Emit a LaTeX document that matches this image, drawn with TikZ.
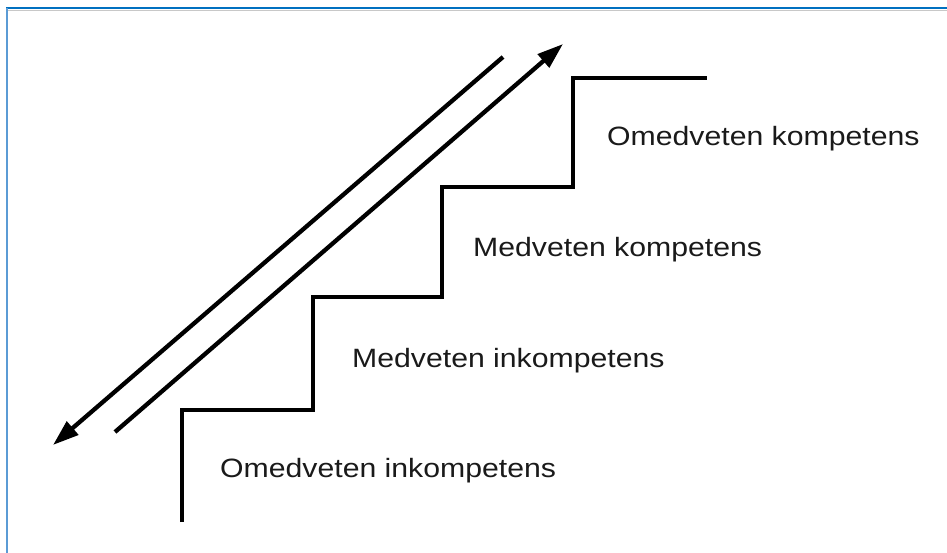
\documentclass[tikz,border=0pt]{standalone}
\usepackage{fontspec}
\usetikzlibrary{arrows.meta}
\newfontfamily\labfont[FakeStretch=1.14]{Liberation Sans}
\definecolor{frameblue}{HTML}{0070C0}
\definecolor{frameleft}{HTML}{5B9BD5}
\definecolor{framegray}{HTML}{C8C8C8}
\definecolor{textgray}{HTML}{1A1A1A}
\tikzset{
  stair/.style={line width=4.5pt, line join=miter, line cap=butt},
  arrowline/.style={line width=4.3pt, -{Triangle[length=26pt,width=17pt]}},
  label/.style={anchor=base west, inner sep=0pt, text=textgray, font=\labfont\fontsize{26.5pt}{30pt}\selectfont}
}
\begin{document}
\begin{tikzpicture}[x=1pt,y=-1pt]
\useasboundingbox (0,0) rectangle (947,553);
\fill[white] (0,0) rectangle (947,553);
% frame
\draw[framegray, line width=1.2pt] (8,10.6) -- (947,10.6);
\draw[frameblue, line width=2pt] (6,8.5) -- (947,8.5);
\draw[frameleft, line width=2pt] (7,8) -- (7,553);
% staircase
\coordinate (s0) at (182,522);
\coordinate (s1) at (182,410);
\coordinate (s2) at (313,410);
\coordinate (s3) at (313,297);
\coordinate (s4) at (442,297);
\coordinate (s5) at (442,187);
\coordinate (s6) at (573,187);
\coordinate (s7) at (573,78);
\coordinate (s8) at (707,78);
\draw[stair] (s0) -- (s1) -- (s2) -- (s3) -- (s4) -- (s5) -- (s6) -- (s7) -- (s8);
% arrows
\coordinate (upstart) at (115,432);
\coordinate (upend) at (563,44);
\coordinate (downstart) at (503,57);
\coordinate (downend) at (53,445);
\draw[arrowline] (upstart) -- (upend);
\draw[arrowline] (downstart) -- (downend);
% labels
\node[label] (l4) at (607,146) {Omedveten kompetens};
\node[label] (l3) at (473,257) {Medveten kompetens};
\node[label] (l2) at (352,367) {Medveten inkompetens};
\node[label] (l1) at (220,477) {Omedveten inkompetens};
\end{tikzpicture}
\end{document}
